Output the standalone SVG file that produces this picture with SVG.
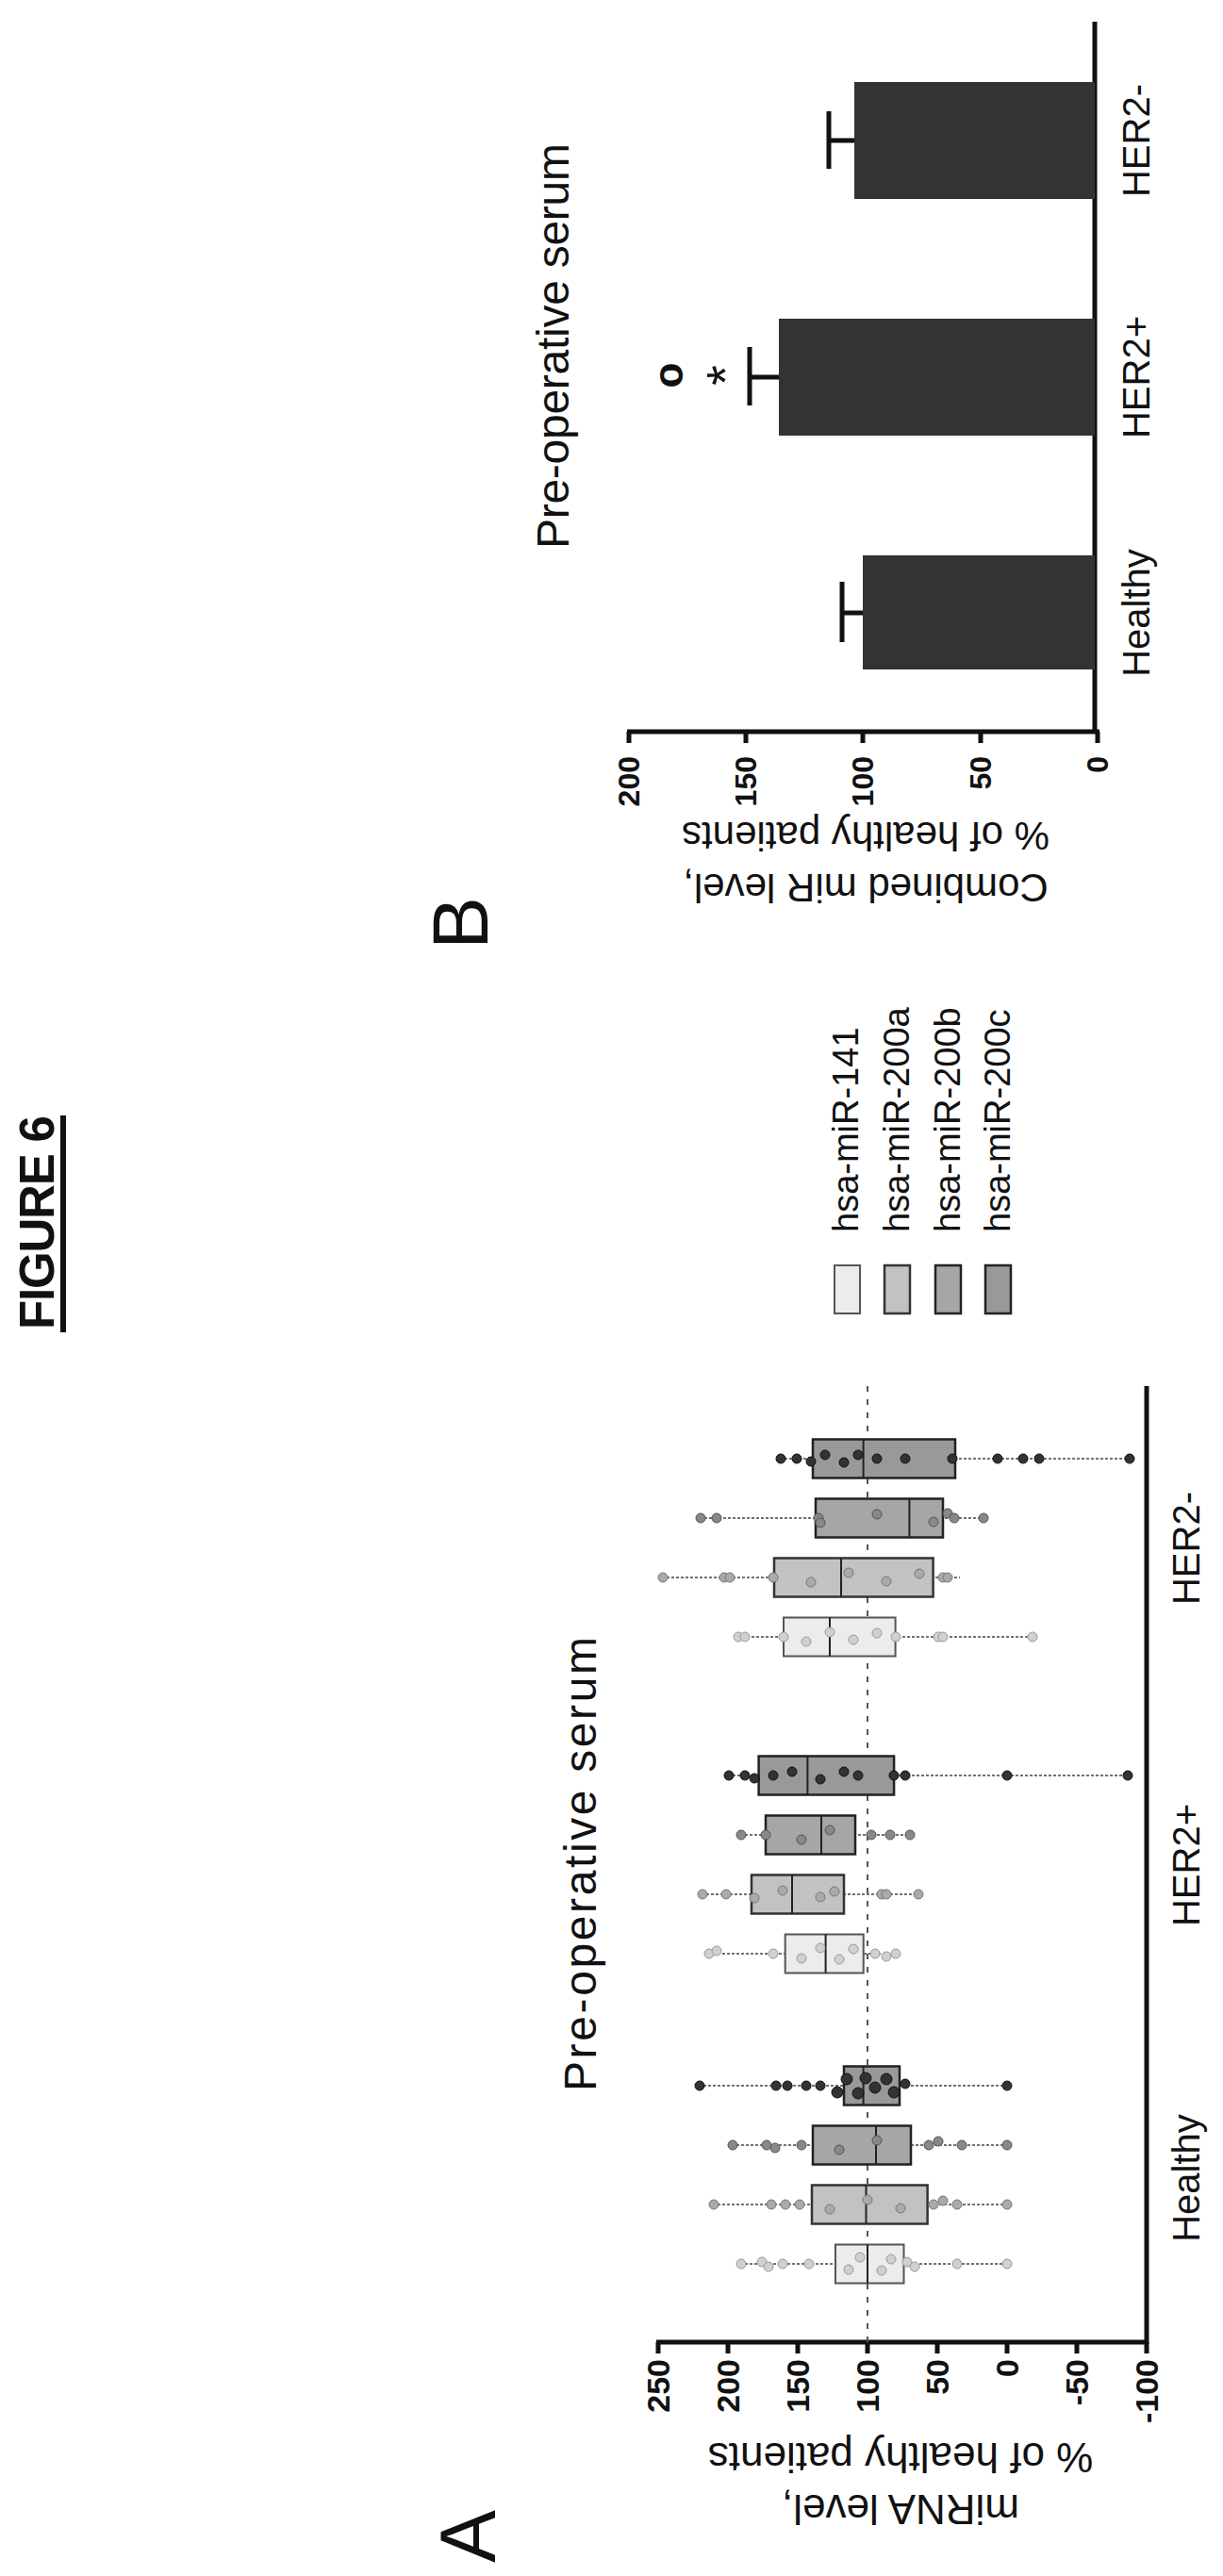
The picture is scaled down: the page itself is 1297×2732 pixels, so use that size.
<svg xmlns="http://www.w3.org/2000/svg" width="1297" height="2732" viewBox="0 0 1297 2732">
<style>
text{font-family:"Liberation Sans",Arial,sans-serif;fill:#111}
.ax{stroke:#111;stroke-width:5;fill:none}
.tk{font-size:34px;font-weight:bold;text-anchor:end}
.tkb{font-size:32px;font-weight:bold;text-anchor:end}
.cat{font-size:40px;text-anchor:middle}
.wh{stroke:#444;stroke-width:1.5;stroke-dasharray:3 2}
.md{stroke:#222;stroke-width:2}
.b1{fill:#ececec;stroke:#555;stroke-width:2}
.b2{fill:#c2c2c2;stroke:#333;stroke-width:2.5}
.b3{fill:#a6a6a6;stroke:#222;stroke-width:2.5}
.b4{fill:#999;stroke:#222;stroke-width:2.5}
.d1 circle{fill:#d0d0d0;stroke:#999;stroke-width:1}
.d2 circle{fill:#aaa;stroke:#777;stroke-width:1}
.d3 circle{fill:#888;stroke:#555;stroke-width:1}
.d4 circle{fill:#333;stroke:#111;stroke-width:1}
.bar{fill:#333}
.eb{stroke:#111;stroke-width:5;fill:none}
.leg{font-size:38px}
</style>
<g transform="translate(0,2732) rotate(-90)">
<g id="title"><text x="1322" y="57" font-size="51" font-weight="bold" textLength="227">FIGURE 6</text><rect x="1319" y="64" width="230" height="6" fill="#111"/></g>
<g id="panelA">
<text x="14" y="525" font-size="84">A</text>
<text x="514" y="632" font-size="48" textLength="482">Pre-operative serum</text>
<text transform="translate(86,955) rotate(-90)" font-size="44" text-anchor="middle">miRNA level,</text>
<text transform="translate(141,955) rotate(-90)" font-size="44" text-anchor="middle">% of healthy patients</text>
<g id="axesA">
<line class="ax" x1="248" y1="696" x2="248" y2="1218"/>
<line class="ax" x1="246" y1="1216" x2="1262" y2="1216"/>
<path class="ax" d="M236 698H248M236 772H248M236 846H248M236 920H248M236 994H248M236 1068H248M236 1142H248M236 1216H248"/>
<text class="tk" x="230" y="710">250</text><text class="tk" x="230" y="784">200</text><text class="tk" x="230" y="858">150</text><text class="tk" x="230" y="932">100</text><text class="tk" x="230" y="1006">50</text><text class="tk" x="230" y="1080">0</text><text class="tk" x="230" y="1154">-50</text><text class="tk" x="230" y="1228">-100</text>
<line x1="248" y1="920" x2="1262" y2="920" stroke="#555" stroke-width="2" stroke-dasharray="6 8"/>
<text class="cat" x="422" y="1272">Healthy</text><text class="cat" x="754" y="1272">HER2+</text><text class="cat" x="1090" y="1272">HER2-</text>
</g>
<g id="boxes">
<line class="wh" x1="331" y1="785" x2="331" y2="1068"/><rect class="b1" x="310.5" y="886" width="41" height="72.5"/><line class="md" x1="310.5" y1="920" x2="351.5" y2="920"/>
<line class="wh" x1="394" y1="756" x2="394" y2="1068"/><rect class="b2" x="373.5" y="861" width="41" height="122.6"/><line class="md" x1="373.5" y1="918.5" x2="414.5" y2="918.5"/>
<line class="wh" x1="457" y1="776" x2="457" y2="1068"/><rect class="b3" x="436.5" y="862" width="41" height="104"/><line class="md" x1="436.5" y1="929" x2="477.5" y2="929"/>
<line class="wh" x1="520" y1="741" x2="520" y2="1068"/><rect class="b4" x="499.5" y="895" width="41" height="59"/><line class="md" x1="499.5" y1="915.6" x2="540.5" y2="915.6"/>
<line class="wh" x1="660" y1="751" x2="660" y2="951"/><rect class="b1" x="639.5" y="832.7" width="41" height="83"/><line class="md" x1="639.5" y1="875.6" x2="680.5" y2="875.6"/>
<line class="wh" x1="723" y1="744" x2="723" y2="975"/><rect class="b2" x="702.5" y="797" width="41" height="98"/><line class="md" x1="702.5" y1="840" x2="743.5" y2="840"/>
<line class="wh" x1="786" y1="785" x2="786" y2="966"/><rect class="b3" x="765.5" y="812" width="41" height="95"/><line class="md" x1="765.5" y1="871" x2="806.5" y2="871"/>
<line class="wh" x1="849" y1="772" x2="849" y2="1197"/><rect class="b4" x="828.5" y="804.6" width="41" height="143.5"/><line class="md" x1="828.5" y1="856.4" x2="869.5" y2="856.4"/>
<line class="wh" x1="996" y1="782" x2="996" y2="1096"/><rect class="b1" x="975.5" y="831" width="41" height="118.6"/><line class="md" x1="975.5" y1="880" x2="1016.5" y2="880"/>
<line class="wh" x1="1059" y1="702" x2="1059" y2="1018"/><rect class="b2" x="1038.5" y="821" width="41" height="168.6"/><line class="md" x1="1038.5" y1="892" x2="1079.5" y2="892"/>
<line class="wh" x1="1122" y1="742" x2="1122" y2="1044"/><rect class="b3" x="1101.5" y="865" width="41" height="135"/><line class="md" x1="1101.5" y1="964.4" x2="1142.5" y2="964.4"/>
<line class="wh" x1="1185" y1="827" x2="1185" y2="1200"/><rect class="b4" x="1164.5" y="862" width="41" height="151"/><line class="md" x1="1164.5" y1="915.6" x2="1205.5" y2="915.6"/>
</g>
<g id="dots">
<g class="d1"><circle cx="331" cy="786" r="5"/><circle cx="333" cy="808" r="5"/><circle cx="328" cy="815" r="5"/><circle cx="331" cy="830" r="5"/><circle cx="331" cy="858" r="5"/><circle cx="325" cy="900" r="5"/><circle cx="338" cy="912" r="5"/><circle cx="324" cy="935" r="5"/><circle cx="336" cy="945" r="5"/><circle cx="333" cy="962" r="5"/><circle cx="328" cy="970" r="5"/><circle cx="331" cy="1015" r="5"/><circle cx="331" cy="1068" r="5"/>
<circle cx="660" cy="752" r="5"/><circle cx="663" cy="760" r="5"/><circle cx="660" cy="820" r="5"/><circle cx="655" cy="850" r="5"/><circle cx="666" cy="870" r="5"/><circle cx="654" cy="890" r="5"/><circle cx="665" cy="905" r="5"/><circle cx="660" cy="928" r="5"/><circle cx="657" cy="940" r="5"/><circle cx="660" cy="950" r="5"/>
<circle cx="996" cy="783" r="5"/><circle cx="996" cy="790" r="5"/><circle cx="996" cy="831" r="5"/><circle cx="991" cy="855" r="5"/><circle cx="1001" cy="880" r="5"/><circle cx="993" cy="905" r="5"/><circle cx="1000" cy="930" r="5"/><circle cx="996" cy="950" r="5"/><circle cx="996" cy="995" r="5"/><circle cx="996" cy="1000" r="5"/><circle cx="996" cy="1095" r="5"/></g>
<g class="d2"><circle cx="394" cy="757" r="5"/><circle cx="394" cy="818" r="5"/><circle cx="394" cy="833" r="5"/><circle cx="394" cy="848" r="5"/><circle cx="389" cy="880" r="5"/><circle cx="399" cy="920" r="5"/><circle cx="390" cy="955" r="5"/><circle cx="394" cy="990" r="5"/><circle cx="398" cy="1000" r="5"/><circle cx="394" cy="1015" r="5"/><circle cx="394" cy="1068" r="5"/>
<circle cx="723" cy="745" r="5"/><circle cx="723" cy="770" r="5"/><circle cx="719" cy="800" r="5"/><circle cx="727" cy="830" r="5"/><circle cx="720" cy="870" r="5"/><circle cx="726" cy="885" r="5"/><circle cx="723" cy="935" r="5"/><circle cx="723" cy="940" r="5"/><circle cx="723" cy="974" r="5"/>
<circle cx="1059" cy="703" r="5"/><circle cx="1059" cy="768" r="5"/><circle cx="1059" cy="774" r="5"/><circle cx="1059" cy="820" r="5"/><circle cx="1054" cy="860" r="5"/><circle cx="1064" cy="900" r="5"/><circle cx="1055" cy="940" r="5"/><circle cx="1063" cy="975" r="5"/><circle cx="1059" cy="1000" r="5"/><circle cx="1059" cy="1005" r="5"/></g>
<g class="d3"><circle cx="457" cy="777" r="5"/><circle cx="457" cy="813" r="5"/><circle cx="454" cy="822" r="5"/><circle cx="457" cy="850" r="5"/><circle cx="452" cy="890" r="5"/><circle cx="462" cy="930" r="5"/><circle cx="457" cy="985" r="5"/><circle cx="461" cy="995" r="5"/><circle cx="457" cy="1020" r="5"/><circle cx="457" cy="1068" r="5"/>
<circle cx="786" cy="786" r="5"/><circle cx="786" cy="812" r="5"/><circle cx="781" cy="850" r="5"/><circle cx="791" cy="880" r="5"/><circle cx="786" cy="924" r="5"/><circle cx="786" cy="944" r="5"/><circle cx="786" cy="965" r="5"/>
<circle cx="1122" cy="743" r="5"/><circle cx="1122" cy="760" r="5"/><circle cx="1122" cy="868" r="5"/><circle cx="1117" cy="870" r="5"/><circle cx="1126" cy="930" r="5"/><circle cx="1118" cy="990" r="5"/><circle cx="1127" cy="1005" r="5"/><circle cx="1122" cy="1012" r="5"/><circle cx="1122" cy="1043" r="5"/></g>
<g class="d4"><circle cx="520" cy="742" r="5"/><circle cx="520" cy="823" r="5"/><circle cx="520" cy="835" r="5"/><circle cx="520" cy="855" r="5"/><circle cx="520" cy="870" r="5"/><circle cx="513" cy="888" r="6"/><circle cx="527" cy="898" r="6"/><circle cx="512" cy="910" r="6"/><circle cx="528" cy="918" r="6"/><circle cx="518" cy="928" r="6"/><circle cx="527" cy="940" r="6"/><circle cx="513" cy="948" r="6"/><circle cx="522" cy="960" r="5"/><circle cx="520" cy="1068" r="5"/>
<circle cx="849" cy="773" r="5"/><circle cx="849" cy="790" r="5"/><circle cx="846" cy="800" r="5"/><circle cx="849" cy="820" r="5"/><circle cx="853" cy="840" r="5"/><circle cx="845" cy="870" r="5"/><circle cx="853" cy="895" r="5"/><circle cx="849" cy="910" r="5"/><circle cx="849" cy="948" r="5"/><circle cx="849" cy="960" r="5"/><circle cx="849" cy="1068" r="5"/><circle cx="849" cy="1196" r="5"/>
<circle cx="1185" cy="828" r="5"/><circle cx="1185" cy="845" r="5"/><circle cx="1182" cy="860" r="5"/><circle cx="1189" cy="875" r="5"/><circle cx="1181" cy="895" r="5"/><circle cx="1189" cy="910" r="5"/><circle cx="1185" cy="930" r="5"/><circle cx="1185" cy="960" r="5"/><circle cx="1185" cy="1010" r="5"/><circle cx="1185" cy="1058" r="5"/><circle cx="1185" cy="1085" r="5"/><circle cx="1185" cy="1102" r="5"/><circle cx="1185" cy="1198" r="5"/></g>
</g>
<g id="legend">
<rect class="b1" x="1339" y="885" width="51" height="27"/><text class="leg" x="1425" y="910">hsa-miR-141</text>
<rect class="b2" x="1339" y="938" width="51" height="27"/><text class="leg" x="1425" y="964">hsa-miR-200a</text>
<rect class="b3" x="1339" y="992" width="51" height="27"/><text class="leg" x="1425" y="1018">hsa-miR-200b</text>
<rect class="b4" x="1339" y="1045" width="51" height="27"/><text class="leg" x="1425" y="1071">hsa-miR-200c</text>
</g>
</g>
<g id="panelB">
<text x="1725" y="517" font-size="84">B</text>
<text x="2150" y="603" font-size="48" textLength="430">Pre-operative serum</text>
<text transform="translate(1805,918) rotate(-90)" font-size="42" text-anchor="middle">Combined miR level,</text>
<text transform="translate(1860,918) rotate(-90)" font-size="42" text-anchor="middle">% of healthy patients</text>
<g id="axesB">
<line class="ax" x1="1956" y1="665" x2="1956" y2="1166"/>
<line class="ax" x1="1954" y1="1161" x2="2709" y2="1161"/>
<path class="ax" d="M1944 667H1956M1944 791H1956M1944 915H1956M1944 1040H1956M1944 1164H1956"/>
<text class="tkb" x="1930" y="678">200</text><text class="tkb" x="1930" y="802">150</text><text class="tkb" x="1930" y="926">100</text><text class="tkb" x="1930" y="1051">50</text><text class="tkb" x="1930" y="1175">0</text>
<text class="cat" x="2082" y="1219">Healthy</text><text class="cat" x="2332" y="1219">HER2+</text><text class="cat" x="2583" y="1219">HER2-</text>
</g>
<g id="bars">
<rect class="bar" x="2022" y="915" width="121" height="246"/>
<rect class="bar" x="2270" y="826" width="124" height="335"/>
<rect class="bar" x="2521" y="906" width="124" height="255"/>
<path class="eb" d="M2082 915V893M2051 893H2115M2332 826V795M2302 795H2364M2583 906V879M2553 879H2614"/>
<text x="2334" y="788" font-size="56" text-anchor="middle">*</text>
<text x="2334" y="724" font-size="44" font-weight="bold" text-anchor="middle">o</text>
</g>
</g>
</g>
</svg>
